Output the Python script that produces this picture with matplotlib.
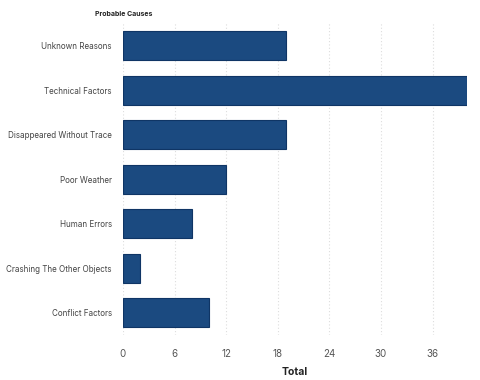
import matplotlib
matplotlib.use("Agg")
import matplotlib.pyplot as plt

categories = ["Unknown Reasons", "Technical Factors", "Disappeared Without Trace",
              "Poor Weather", "Human Errors", "Crashing The Other Objects", "Conflict Factors"]
totals = [19, 40, 19, 12, 8, 2, 10]
xticks = [0, 6, 12, 18, 24, 30, 36]

plt.rcParams['font.family'] = ['Inter', 'DejaVu Sans']

fig = plt.figure(figsize=(4.8, 3.8), dpi=100)
ax = fig.add_axes([0.256, 0.118, 0.717, 0.821])

y = list(range(len(categories)))
ax.barh(y, totals, height=0.65, color="#1b4a80", edgecolor="#0f3565", linewidth=0.8, zorder=3)
ax.set_ylim(len(categories) - 0.5, -0.5)
ax.set_xlim(0, 40)
ax.set_yticks(y)
ax.set_yticklabels(categories, fontsize=5.8, color="#444444")
ax.set_xticks(xticks)
ax.set_xticklabels([str(t) for t in xticks], fontsize=7, color="#555555")
ax.tick_params(axis='y', length=0, pad=8)
ax.tick_params(axis='x', length=0, pad=10)
for s in ax.spines.values():
    s.set_visible(False)
ax.grid(axis='x', linestyle=(0, (1, 2)), color="#dddddd", linewidth=0.8, zorder=0)
ax.set_xlabel("Total", fontsize=7.5, fontweight='bold', color="#222222", labelpad=6)
fig.text(0.198, 0.962, "Probable Causes", fontsize=5, fontweight='bold', color="#222222",
         ha='left', va='center')

fig.savefig("out.png", dpi=100)
